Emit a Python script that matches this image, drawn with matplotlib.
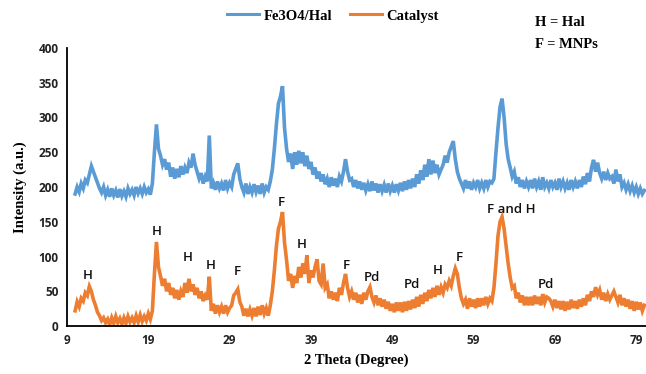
import numpy as np
import matplotlib
matplotlib.use("Agg")
import matplotlib.pyplot as plt

# 2-theta grid (degrees), 0.25 step from 10 to 80
two_theta = np.arange(10.0, 80.0001, 0.25)

fe3o4_hal = [
    190, 200, 193, 205, 198, 210, 206, 218,
    230, 222, 214, 206, 198, 192, 200, 188,
    196, 186, 198, 188, 195, 185, 197, 187,
    194, 186, 198, 190, 196, 188, 200, 191,
    198, 190, 200, 192, 197, 189, 205, 250,
    290, 255, 245, 232, 240, 225, 235, 215,
    228, 212, 226, 214, 230, 218, 228, 220,
    235, 228, 248, 232, 222, 212, 220, 205,
    215, 208, 274, 198, 206, 196, 208, 198,
    205, 195, 210, 198, 206, 200, 218, 226,
    234, 212, 200, 192, 205, 190, 200, 192,
    204, 193, 202, 190, 205, 192, 200, 196,
    208, 225, 255, 290, 320, 330, 345, 285,
    255, 236, 248, 226, 250, 232, 252, 234,
    250, 230, 245, 226, 236, 218, 228, 212,
    222, 208, 218, 204, 212, 200, 214, 202,
    212, 200, 215, 208, 222, 240, 222, 210,
    212, 200, 210, 198, 208, 196, 206, 195,
    204, 194, 208, 195, 205, 192, 204, 194,
    203, 192, 205, 194, 202, 192, 204, 195,
    206, 194, 208, 196, 210, 198, 212, 200,
    218, 205, 224, 210, 232, 215, 240, 218,
    238, 220, 232, 218, 225, 232, 245, 235,
    250, 258, 266, 240, 222, 212, 205, 198,
    210, 198, 208, 196, 206, 200, 210, 198,
    206, 198, 210, 200, 208, 206, 212, 250,
    285, 315, 327, 300, 262, 240, 228, 215,
    222, 205, 214, 200, 210, 198, 208, 200,
    210, 198, 212, 200, 208, 196, 214, 200,
    206, 198, 210, 200, 206, 196, 212, 200,
    208, 198, 206, 196, 210, 200, 208, 198,
    210, 200, 215, 204, 220, 208, 228, 239,
    222, 235, 220, 212, 222, 210, 220, 212,
    215, 205, 225, 208, 218, 200, 206, 196,
    204, 194, 202, 192, 200, 190, 198, 190,
    195,
]

catalyst = [
    22, 35, 28, 40, 36, 48, 44, 57,
    50, 38, 30, 20, 15, 8, 12, 5,
    10, 2, 12, 4, 14, 5, 11, 3,
    12, 4, 14, 6, 12, 5, 15, 6,
    16, 7, 14, 8, 18, 10, 22, 75,
    121, 85, 72, 58, 68, 50, 62, 45,
    55, 40, 52, 38, 50, 42, 62, 48,
    68, 50, 60, 45, 55, 40, 50, 36,
    44, 38, 71, 22, 32, 18, 30, 20,
    28, 18, 30, 20, 26, 30, 44, 48,
    53, 35, 28, 15, 25, 14, 24, 15,
    26, 14, 28, 16, 30, 18, 26, 15,
    30, 50, 80, 115, 140, 150, 164, 120,
    95, 65, 75, 55, 72, 62, 85, 70,
    90, 75, 102, 62, 80, 70, 85, 96,
    65, 60, 90, 55, 60, 40, 50, 38,
    48, 36, 55, 45, 62, 75, 55, 42,
    50, 38, 48, 34, 45, 32, 48, 38,
    50, 56, 42, 34, 44, 30, 40, 28,
    38, 25, 35, 22, 32, 20, 34, 22,
    34, 20, 35, 22, 36, 24, 38, 26,
    42, 28, 45, 32, 48, 36, 52, 40,
    55, 42, 58, 45, 56, 48, 60, 55,
    65, 58, 72, 83, 75, 55, 40, 32,
    38, 25, 40, 28, 38, 26, 40, 28,
    40, 30, 42, 32, 40, 36, 55, 90,
    130, 150, 157, 140, 115, 90, 70, 55,
    58, 40, 48, 34, 44, 30, 42, 30,
    42, 30, 44, 32, 42, 30, 46, 34,
    42, 40, 36, 28, 38, 26, 36, 24,
    36, 22, 35, 24, 38, 26, 36, 25,
    38, 28, 40, 30, 45, 36, 50, 42,
    56, 45, 52, 38, 48, 36, 46, 38,
    44, 50, 42, 34, 45, 30, 40, 28,
    38, 25, 36, 22, 35, 24, 34, 22,
    30,
]

series_names = ["Fe3O4/Hal", "Catalyst"]
x_ticks = [9, 19, 29, 39, 49, 59, 69, 79]
y_ticks = [0, 50, 100, 150, 200, 250, 300, 350, 400]

peak_labels = ["H", "H", "H", "H", "F", "F", "H", "F", "Pd", "Pd", "H", "F", "F and H", "Pd"]
peak_x = [11.5, 20.0, 23.9, 26.7, 29.9, 35.4, 37.9, 43.4, 46.5, 51.4, 54.6, 57.3, 63.6, 67.9]
peak_y = [73, 136, 98, 87, 79, 178, 118, 87, 70, 60, 80, 99, 167, 60]

fig = plt.figure(figsize=(6.46, 3.74), dpi=100)
ax = fig.add_axes([0.1037, 0.128, 0.8963, 0.744])

blue = "#5B9BD5"
orange = "#ED7D31"
ax.plot(two_theta, fe3o4_hal, color=blue, lw=2.6, solid_joinstyle="miter", label=series_names[0])
ax.plot(two_theta, catalyst, color=orange, lw=2.6, solid_joinstyle="miter", label=series_names[1])

ax.set_xlim(9, 80.2)
ax.set_ylim(0, 400)
ax.set_xticks(x_ticks)
ax.set_yticks(y_ticks)
ax.tick_params(length=0, pad=6)
for lab in ax.get_xticklabels() + ax.get_yticklabels():
    lab.set_fontfamily("Open Sans")
    lab.set_fontweight("bold")
    lab.set_fontsize(8.5)
    lab.set_color("#222222")

for s in ["top", "right"]:
    ax.spines[s].set_visible(False)
for s in ["left", "bottom"]:
    ax.spines[s].set_linewidth(1.3)
    ax.spines[s].set_color("black")

ax.set_xlabel("2 Theta (Degree)", fontfamily="Liberation Serif", fontweight="bold", fontsize=10.5, labelpad=4)
ax.set_ylabel("Intensity (a.u.)", fontfamily="Liberation Serif", fontweight="bold", fontsize=10.5, labelpad=8)

for t, xx, yy in zip(peak_labels, peak_x, peak_y):
    ax.text(xx, yy, t, ha="center", va="center", fontfamily="Open Sans", fontweight="semibold",
            fontsize=9.5, color="#111111")

leg = fig.legend(loc="upper center", bbox_to_anchor=(0.515, 1.01), ncol=2, frameon=False,
                 prop={"family": "Liberation Serif", "weight": "bold", "size": 10.5},
                 handlelength=2.2, handletextpad=0.3, columnspacing=1.2)
for line in leg.get_lines():
    line.set_linewidth(2.2)

fig.text(0.828, 0.94, "H = Hal", fontfamily="Liberation Serif", fontweight="bold", fontsize=10.5, va="center")
fig.text(0.828, 0.88, "F = MNPs", fontfamily="Liberation Serif", fontweight="bold", fontsize=10.5, va="center")

fig.savefig("out.png", dpi=100)
